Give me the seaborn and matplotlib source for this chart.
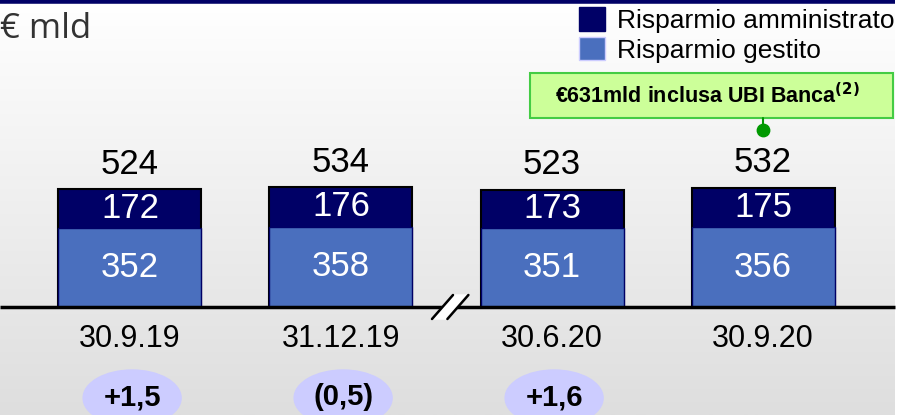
import numpy as np
import pandas as pd
import seaborn as sns
import matplotlib.pyplot as plt
from matplotlib.patches import Ellipse, Rectangle, Patch

dates = ['30.9.19', '31.12.19', '30.6.20', '30.9.20']
gestito = [352, 358, 351, 356]
amministrato = [172, 176, 173, 175]
totals = [524, 534, 523, 532]
deltas = ['+1,5', '(0,5)', '+1,6']
note = '€631mld inclusa UBI Banca$^{\\mathbf{(2)}}$'

navy = '#000066'
blue = '#4A6FBE'

sns.set_style('white')
plt.rcParams['font.family'] = ['Liberation Sans', 'DejaVu Sans']
plt.rcParams['text.color'] = 'black'

df = pd.DataFrame({'data': dates, 'gestito': gestito, 'amministrato': amministrato, 'totale': totals})

fig = plt.figure(figsize=(9.12, 4.15), dpi=100)
ax = fig.add_axes([0, 0, 1, 1])

# pixel -> data mapping
px_per_cat = 211.0
px_per_val = 79 / 352
x0 = -130 / px_per_cat
x1 = (912 - 130) / px_per_cat
y0 = -108 / px_per_val
y1 = (415 - 108) / px_per_val
xr = (895 - 130) / px_per_cat

def ypx(p):
    # pixel row from top -> data y
    return (415 - p - 108) / px_per_val

# grey gradient background
grad = np.linspace(0, 1, 256).reshape(-1, 1)
ax.imshow(grad, cmap=sns.blend_palette(['#ffffff', '#dedede'], as_cmap=True),
          extent=[x0, xr, y0, y1], origin='upper', aspect='auto', zorder=0)

w = 143 / px_per_cat
sns.barplot(data=df, x='data', y='totale', color=navy, width=w, saturation=1,
            edgecolor='black', linewidth=1.5, ax=ax, zorder=2)
sns.barplot(data=df, x='data', y='gestito', color=blue, width=w, saturation=1,
            edgecolor=navy, linewidth=1, ax=ax, zorder=3)
ax.set_xlim(x0, x1)
ax.set_ylim(y0, y1)
ax.axis('off')

for i in range(len(dates)):
    ax.text(i, gestito[i] / 2, str(gestito[i]), color='white', fontsize=25,
            ha='center', va='center', zorder=5)
    ax.text(i, gestito[i] + amministrato[i] / 2, str(amministrato[i]), color='white',
            fontsize=25, ha='center', va='center', zorder=5)
    ax.text(i, totals[i] + 112, str(totals[i]), fontsize=25,
            ha='center', va='center', zorder=5)
    ax.text(i, ypx(339), dates[i], fontsize=22, ha='center', va='center', zorder=5)

for i, d in enumerate(deltas):
    ax.add_patch(Ellipse((i + 0.01, ypx(398)), 98 / px_per_cat, 56 / px_per_val,
                         color='#ccccff', zorder=4))
    ax.text(i + 0.01, ypx(397), d, fontsize=21, fontweight='bold', ha='center',
            va='center', zorder=5)

# baseline and axis break
ax.plot([x0, xr], [0, 0], color='black', lw=2.5, zorder=6, solid_capstyle='butt')
bx = (446 - 130) / px_per_cat
dx = 7 / px_per_cat
dy = 12 / px_per_val
ax.fill([bx - 2 * dx, bx + dx, bx + 3 * dx, bx], [-dy, dy, dy, -dy], color='white', zorder=7)
for off in (0, 2.2 * dx):
    ax.plot([bx - 2 * dx + off, bx + dx + off], [-dy, dy], color='black', lw=1.8, zorder=8)

# top rule
ax.plot([x0, xr], [y1 - 1.5 / px_per_val] * 2, color=navy, lw=4, zorder=6, solid_capstyle='butt')

ax.text(x0, ypx(29), '€ mld', fontsize=25, color='#333333', ha='left', va='center',
        family=['Open Sans', 'DejaVu Sans'])

# callout
cx0 = (530 - 130) / px_per_cat
cx1 = (893 - 130) / px_per_cat
cy0 = ypx(118)
cy1 = ypx(73)
ax.add_patch(Rectangle((cx0, cy0), cx1 - cx0, cy1 - cy0, facecolor='#ccff99',
                       edgecolor='#44cc44', lw=1.5, zorder=6))
ax.text((cx0 + cx1) / 2 - 4 / px_per_cat, (cy0 + cy1) / 2, note, fontsize=15.5,
        fontweight='bold', ha='center', va='center', zorder=7)
ax.scatter([3], [ypx(130)], s=80, color='#009900', zorder=7)
ax.plot([3, 3], [ypx(130), cy0], color='#009900', lw=1.5, zorder=6)

handles = [Patch(facecolor=navy, edgecolor=navy), Patch(facecolor=blue, edgecolor='#ccccff')]
fig.legend(handles, ['Risparmio amministrato', 'Risparmio gestito'], loc='upper left',
           bbox_to_anchor=(579 / 912, 1 - 7 / 415), frameon=False, fontsize=19,
           handlelength=1.0, handleheight=1.0, handletextpad=0.45, labelspacing=0.15,
           borderaxespad=0, borderpad=0)

fig.savefig('out.png', dpi=100)
